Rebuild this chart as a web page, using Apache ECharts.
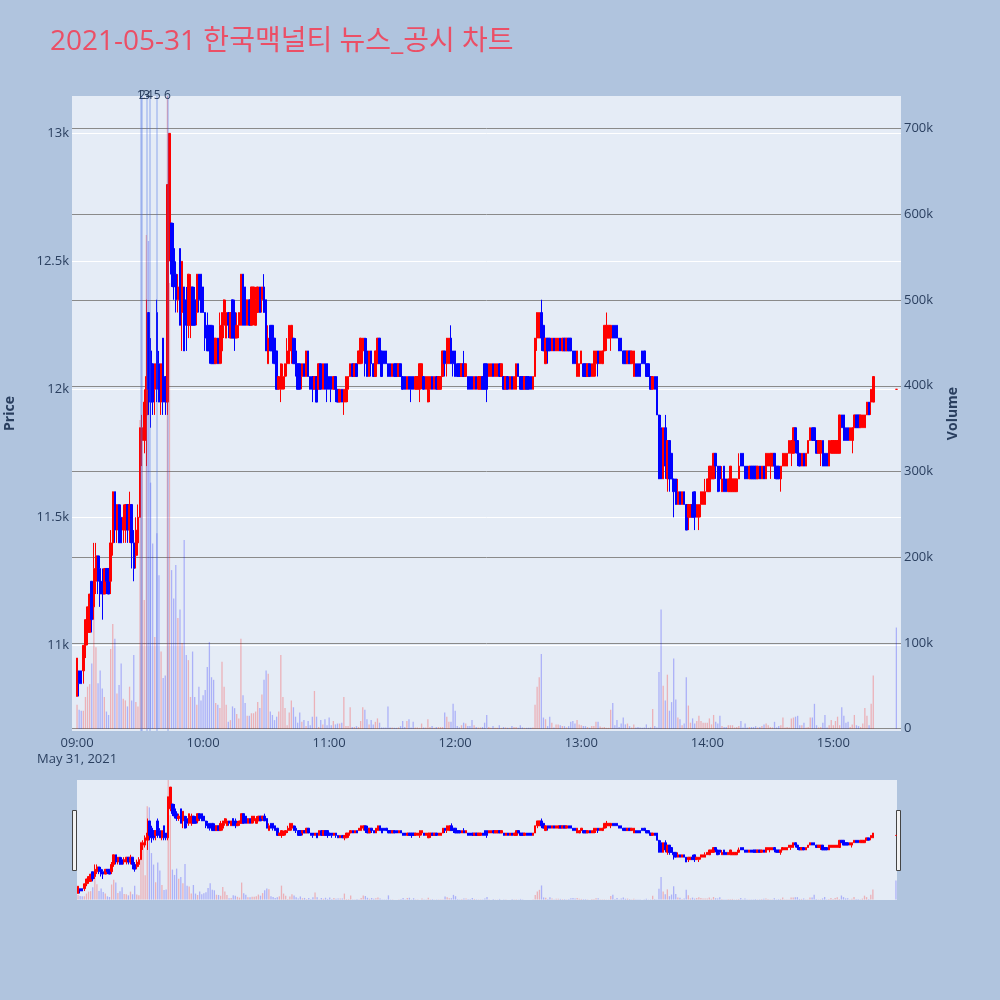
<!DOCTYPE html>
<html>
<head>
<meta charset="utf-8">
<title>2021-05-31 한국맥널티 뉴스_공시 차트</title>
<script src="https://cdn.jsdelivr.net/npm/echarts@6/dist/echarts.min.js"></script>
<style>
html, body { margin: 0; padding: 0; background: #b0c4de; }
#chart { width: 1000px; height: 1000px; }
</style>
</head>
<body>
<div id="chart"></div>
<script>
// 1분봉 09:00 ~ 15:19, 마지막 값은 15:30 종가 단일가
var openPrice = [
  10800,10900,10900,10900,11000,11050,11050,11250,11150,11250, // 09:00
  11350,11300,11250,11200,11300,11300,11250,11400,11600,11450,
  11550,11500,11450,11450,11550,11450,11550,11400,11350,11400,
  11500,11800,11800,11900,12300,12150,12100,12000,12300,12100, // 09:30
  11950,12200,12050,11950,12550,12650,12550,12450,12350,12550,
  12300,12400,12350,12250,12250,12400,12350,12300,12450,12450,
  12400,12300,12250,12250,12250,12200,12100,12200,12100,12150, // 10:00
  12250,12200,12300,12200,12350,12300,12200,12250,12250,12450,
  12400,12250,12350,12250,12300,12250,12300,12400,12350,12400,
  12350,12100,12250,12250,12200,12150,12000,12000,12000,12050, // 10:30
  12100,12100,12150,12200,12150,12100,12100,12050,12100,12050,
  12150,12050,12050,12000,12050,12000,12100,12000,12100,12100,
  12050,12050,12000,12050,12000,11950,12000,11950,11950,12000, // 11:00
  12050,12100,12050,12100,12100,12100,12150,12200,12150,12050,
  12150,12100,12050,12100,12200,12150,12150,12150,12100,12100,
  12050,12100,12100,12050,12100,12050,12050,12000,12050,12050, // 11:30
  12050,12000,12000,12000,12050,12050,12000,11950,12000,12050,
  12000,12050,12000,12000,12050,12150,12100,12100,12200,12150,
  12150,12100,12100,12050,12100,12050,12050,12050,12050,12000, // 12:00
  12050,12000,12000,12050,12100,12100,12050,12050,12100,12050,
  12050,12100,12050,12050,12000,12050,12000,12050,12000,12000,
  12100,12050,12050,12000,12050,12050,12050,12000,12050,12200, // 12:30
  12200,12300,12250,12100,12200,12200,12150,12200,12150,12150,
  12200,12150,12200,12150,12200,12200,12150,12150,12050,12050,
  12100,12100,12100,12050,12100,12050,12050,12100,12150,12100, // 13:00
  12100,12150,12200,12200,12200,12250,12250,12250,12200,12200,
  12150,12150,12100,12150,12100,12050,12100,12100,12100,12150,
  12150,12100,12100,12050,12000,12050,12050,11900,11850,11650, // 13:30
  11850,11650,11800,11750,11650,11650,11550,11600,11550,11600,
  11550,11500,11500,11550,11600,11500,11500,11550,11550,11550,
  11600,11600,11650,11650,11750,11700,11700,11600,11700,11650, // 14:00
  11600,11600,11600,11600,11600,11650,11750,11750,11700,11700,
  11650,11700,11700,11700,11650,11700,11650,11700,11650,11700,
  11700,11700,11750,11700,11700,11650,11700,11700,11700,11750, // 14:30
  11750,11750,11850,11800,11750,11700,11750,11700,11750,11800,
  11850,11850,11800,11750,11750,11800,11750,11750,11700,11750,
  11750,11750,11750,11750,11900,11900,11850,11850,11800,11800, // 15:00
  11850,11900,11900,11850,11850,11850,11900,11950,11950,11950,
  12000 // 15:30
];
var closePrice = [
  10950,10850,10850,11000,11100,11150,11200,11100,11300,11350,
  11250,11200,11200,11300,11250,11200,11400,11600,11450,11550,
  11400,11400,11500,11550,11450,11550,11400,11300,11450,11500,
  11850,11850,11950,12050,12000,11950,11950,12100,12000,11950,
  12100,11950,11950,12800,13000,12450,12400,12350,12400,12250,
  12500,12150,12250,12450,12400,12250,12250,12450,12350,12300,
  12300,12200,12150,12150,12100,12100,12200,12100,12250,12300,
  12350,12300,12250,12300,12200,12200,12250,12300,12450,12250,
  12250,12350,12250,12400,12400,12350,12400,12300,12400,12300,
  12150,12200,12150,12150,12100,12000,12050,12100,12050,12100,
  12150,12250,12250,12100,12100,12000,12000,12100,12050,12150,
  12050,12000,12000,12050,11950,12100,12000,12100,12000,12000,
  12000,12000,12050,12000,11950,12000,11950,12000,12050,12050,
  12100,12050,12100,12050,12150,12200,12200,12100,12050,12150,
  12100,12050,12150,12200,12100,12050,12100,12100,12050,12050,
  12100,12050,12050,12100,12050,12000,12000,12050,12000,12000,
  12000,12050,12050,12100,12100,12000,12050,12050,12050,12000,
  12050,12000,12050,12050,12150,12100,12200,12200,12100,12100,
  12050,12050,12050,12100,12050,12100,12000,12000,12000,12050,
  12000,12050,12050,12000,12000,12000,12100,12100,12050,12100,
  12100,12050,12100,12000,12050,12000,12050,12000,12050,12100,
  12050,12000,12000,12050,12000,12000,12000,12050,12200,12300,
  12300,12200,12150,12200,12150,12150,12200,12150,12200,12200,
  12150,12200,12150,12200,12150,12150,12100,12100,12150,12100,
  12150,12050,12050,12100,12050,12100,12150,12150,12100,12150,
  12150,12250,12250,12250,12250,12200,12200,12200,12150,12150,
  12100,12100,12150,12100,12150,12150,12050,12050,12050,12100,
  12100,12050,12050,12000,12050,12000,11900,11650,11650,11850,
  11700,11800,11650,11650,11600,11550,11600,11550,11600,11550,
  11450,11550,11550,11500,11500,11550,11550,11600,11600,11600,
  11650,11700,11700,11750,11700,11600,11650,11650,11600,11600,
  11650,11700,11650,11650,11650,11700,11700,11700,11650,11650,
  11700,11650,11650,11650,11700,11650,11700,11650,11750,11750,
  11750,11750,11700,11650,11650,11700,11750,11750,11750,11800,
  11800,11850,11800,11750,11700,11750,11700,11750,11800,11850,
  11800,11800,11750,11800,11800,11700,11700,11700,11800,11800,
  11800,11800,11800,11900,11850,11800,11800,11800,11850,11850,
  11900,11850,11850,11900,11900,11900,11950,11900,12000,12050,
  12000
];
var lowPrice = [
  10800,10800,10850,10850,10950,11000,11050,11050,11100,11200,
  11200,11150,11100,11200,11200,11200,11200,11350,11400,11400,
  11400,11400,11400,11400,11400,11400,11300,11250,11300,11350,
  11500,11700,11750,11700,11900,11850,11900,11900,11950,11950,
  11900,11900,11900,11900,12500,12400,12350,12300,12300,12250,
  12150,12150,12150,12200,12200,12250,12250,12250,12300,12300,
  12300,12150,12150,12100,12100,12100,12100,12100,12100,12100,
  12200,12200,12200,12200,12200,12150,12200,12200,12250,12250,
  12250,12250,12250,12250,12250,12250,12300,12300,12300,12300,
  12150,12100,12150,12100,12100,12000,12000,11950,12000,12000,
  12050,12100,12100,12100,12050,12000,12000,12000,12050,12050,
  12050,12000,11950,12000,11950,12000,12000,12000,12000,11950,
  12000,11950,12000,11950,11950,11950,11950,11900,11950,11950,
  12050,12050,12050,12050,12100,12100,12100,12050,12050,12050,
  12050,12050,12050,12100,12100,12050,12100,12100,12050,12050,
  12050,12050,12050,12050,12050,12000,12000,12000,12000,11950,
  12000,12000,12000,11950,12000,12000,12000,11950,11950,12000,
  12000,12000,12000,12000,12050,12050,12050,12100,12100,12050,
  12050,12050,12050,12050,12050,12050,12000,12000,12000,12000,
  12000,12000,12000,12000,12000,11950,12050,12050,12050,12050,
  12050,12050,12050,12000,12000,12000,12000,12000,12000,12000,
  12050,12000,12000,12000,12000,12000,12000,12000,12050,12150,
  12200,12150,12150,12100,12100,12150,12150,12150,12150,12150,
  12150,12150,12150,12150,12150,12150,12100,12100,12050,12050,
  12100,12050,12050,12050,12050,12050,12050,12050,12050,12100,
  12100,12150,12150,12200,12150,12200,12200,12200,12150,12150,
  12100,12100,12100,12100,12100,12050,12050,12050,12050,12100,
  12100,12050,12050,12000,12000,12000,11900,11650,11650,11650,
  11650,11600,11600,11650,11500,11550,11550,11550,11550,11550,
  11450,11450,11500,11500,11450,11500,11450,11500,11550,11550,
  11600,11600,11650,11650,11650,11600,11600,11600,11600,11600,
  11600,11600,11600,11600,11600,11650,11700,11700,11650,11650,
  11650,11650,11650,11650,11650,11650,11650,11650,11650,11700,
  11650,11700,11650,11650,11650,11600,11700,11700,11700,11750,
  11700,11750,11750,11700,11700,11700,11700,11700,11750,11800,
  11800,11800,11750,11750,11700,11700,11700,11700,11700,11750,
  11750,11750,11750,11750,11850,11800,11800,11800,11800,11750,
  11850,11850,11850,11850,11850,11850,11900,11900,11900,11950,
  12000
];
var highPrice = [
  10950,10900,10900,11000,11100,11150,11200,11250,11400,11400,
  11350,11350,11300,11300,11300,11300,11450,11600,11600,11550,
  11550,11550,11550,11550,11550,11600,11550,11450,11500,11550,
  11850,11900,12000,12350,12300,12200,12100,12100,12350,12150,
  12100,12200,12050,12800,13000,12650,12650,12500,12450,12550,
  12500,12400,12400,12450,12450,12400,12400,12450,12450,12450,
  12400,12300,12300,12250,12250,12250,12200,12200,12300,12300,
  12350,12350,12300,12300,12350,12350,12300,12300,12450,12450,
  12400,12350,12350,12400,12400,12400,12400,12400,12400,12450,
  12350,12250,12250,12250,12200,12150,12050,12100,12100,12100,
  12200,12250,12250,12200,12200,12100,12100,12100,12100,12150,
  12150,12050,12050,12050,12050,12100,12100,12100,12100,12100,
  12050,12050,12050,12050,12000,12000,12000,12000,12050,12050,
  12100,12100,12100,12100,12150,12200,12200,12200,12200,12150,
  12150,12100,12150,12200,12200,12150,12150,12150,12100,12100,
  12100,12100,12100,12100,12100,12050,12050,12050,12050,12050,
  12050,12050,12050,12100,12100,12050,12050,12050,12050,12050,
  12050,12050,12050,12050,12150,12150,12200,12200,12250,12150,
  12150,12100,12100,12100,12150,12100,12050,12050,12050,12050,
  12050,12050,12050,12050,12100,12100,12100,12100,12100,12100,
  12100,12100,12100,12050,12050,12050,12050,12050,12050,12100,
  12100,12050,12050,12050,12050,12050,12050,12050,12200,12300,
  12300,12350,12250,12200,12200,12200,12200,12200,12200,12200,
  12200,12200,12200,12200,12200,12200,12150,12150,12150,12100,
  12150,12100,12100,12100,12100,12100,12150,12150,12150,12150,
  12150,12250,12300,12250,12250,12250,12250,12250,12200,12200,
  12150,12150,12150,12150,12150,12150,12100,12100,12100,12150,
  12150,12100,12100,12050,12050,12050,12050,11900,11900,11850,
  11900,11800,11800,11750,11650,11650,11650,11600,11600,11600,
  11550,11550,11550,11600,11600,11550,11550,11600,11600,11650,
  11650,11700,11700,11750,11750,11700,11700,11700,11700,11650,
  11650,11700,11650,11650,11650,11750,11750,11750,11700,11700,
  11700,11700,11700,11700,11700,11700,11700,11700,11750,11750,
  11750,11750,11750,11700,11700,11700,11750,11750,11750,11800,
  11800,11850,11850,11800,11750,11750,11750,11750,11800,11850,
  11850,11850,11800,11800,11800,11800,11750,11750,11800,11800,
  11800,11800,11800,11900,11900,11900,11850,11850,11850,11850,
  11900,11900,11900,11900,11900,11900,11950,11950,12000,12050,
  12000
];
var volume = [
  28000,22000,21000,21000,37000,49000,52000,76000,185000,95000,
  53000,68000,47000,37000,20000,16000,93000,122000,105000,41000,
  51000,76000,35000,33000,26000,49000,33000,86000,31000,26000,
  360000,336000,150000,576000,569000,287000,216000,107000,228000,179000,
  90000,59000,62000,780000,520000,185000,152000,191000,129000,139000,
  100000,220000,86000,80000,37000,90000,37000,28000,49000,33000,
  39000,45000,72000,101000,60000,57000,30000,28000,24000,78000,
  49000,28000,8000,10000,26000,24000,17000,12000,105000,39000,
  30000,15000,15000,18000,18000,20000,31000,24000,40000,57000,
  68000,64000,20000,16000,10000,14000,20000,86000,37000,24000,
  4000,19000,33000,25000,14000,7000,19000,8000,10000,3000,
  9000,4000,14000,44000,14000,2000,10000,5000,11000,4000,
  13000,4000,9000,5000,6000,6000,7000,37000,3000,3000,
  25000,2000,2000,3000,2000,9000,25000,22000,11000,5000,
  10000,5000,8000,12000,7000,1500,1500,1500,26000,1500,
  1500,1000,1000,1500,3000,9000,2000,9000,11000,1500,
  8000,1500,1500,1000,6000,1500,1500,11000,2000,3000,
  1000,2000,2000,2000,2000,19000,14000,8000,8000,29000,
  21000,3000,1500,4000,7000,6000,3000,3000,10000,4000,
  2000,1500,1500,2000,7000,16000,2000,1000,3000,1000,
  1000,4000,1000,2000,1500,1000,1000,3000,2000,2000,
  1000,4000,1500,1000,1000,1000,1000,1500,28000,49000,
  60000,87000,13000,11000,3000,14000,7000,1500,5000,5000,
  4000,3000,3000,1500,3000,8000,9000,6000,10000,5000,
  4000,3000,3000,2000,1000,3000,3000,8000,8000,2500,
  1500,2000,1000,1000,22000,30000,4000,10000,2000,6000,
  13000,5000,6000,3000,1500,5000,1500,2000,1500,1000,
  1500,5000,1000,1500,23000,3000,1500,66000,139000,50000,
  33000,63000,21000,31000,82000,34000,13000,11000,4000,6000,
  60000,27000,7000,12000,6000,9000,15000,9000,7000,7000,
  7000,12000,5000,16000,8000,6000,15000,3000,2000,2000,
  4000,4000,4000,1500,2000,3000,9000,1500,6000,1500,
  2000,2000,2000,3000,1500,2000,3000,5000,6000,4000,
  2000,1500,8000,1500,3000,4000,13000,1500,2000,1500,
  12000,13000,14000,15000,4000,4000,7000,1500,2000,13000,
  13000,29000,4000,1500,2000,7000,16000,1500,4000,10000,
  4000,9000,14000,4000,25000,15000,7000,8000,2000,5000,
  16000,4000,3000,2000,6000,24000,15000,4000,29000,62000,
  118000
];

// 분 단위 위치 (09:00 = 0), 15:20~15:29 는 거래 없음
var minutes = [];
for (var i = 0; i < 380; i++) minutes.push(i);
minutes.push(390);

// 뉴스/공시 시각 (분)
var newsMinutes = [30.1, 31.0, 33.2, 34.4, 38.1, 43.0];
var newsLabels = ['1', '2', '3', '4', '5', '6'];

var timeTicks = [0, 60, 120, 180, 240, 300, 360];
var tradeDate = 'May 31, 2021';

var upColor = '#ff0000', downColor = '#0000ff';
var volUp = 'rgba(255,0,0,0.25)', volDown = 'rgba(0,0,255,0.25)';
var fontMain = '"Open Sans", "Noto Sans CJK KR", sans-serif';

var candleData = [], volumeData = [];
for (var k = 0; k < minutes.length; k++) {
    var o = openPrice[k], c = closePrice[k];
    var up = c > o || (c === o && (k === 0 || c >= closePrice[k - 1]));
    var item = { value: [minutes[k], o, c, lowPrice[k], highPrice[k]] };
    if (c === o) {
        item.itemStyle = { color: upColor, color0: upColor, borderColor: upColor, borderColor0: upColor };
    }
    candleData.push(item);
    volumeData.push({ value: [minutes[k], volume[k]], itemStyle: { color: up ? volUp : volDown } });
}

function timeLabel(v) {
    var h = 9 + Math.floor(v / 60), mm = v % 60;
    var s = (h < 10 ? '0' : '') + h + ':' + (mm < 10 ? '0' : '') + mm;
    return v === 0 ? s + '\n' + tradeDate : s;
}

var priceMin = 10665, priceMax = 13146;
var volMin = -2700, volMax = 738000;

var myChart = echarts.init(document.getElementById('chart'));
var option = {
    backgroundColor: '#b0c4de',
    animation: false,
    textStyle: { fontFamily: fontMain },
    title: {
        text: '2021-05-31 한국맥널티 뉴스_공시 차트',
        left: 45,
        top: 23,
        textStyle: { color: '#eb4f66', fontSize: 28, fontWeight: 'normal', fontFamily: fontMain }
    },
    grid: [
        { left: 72, top: 96, width: 829, height: 635, show: true, backgroundColor: '#e5ecf6', borderWidth: 0, outerBoundsMode: 'none' },
        { left: 77, top: 780, width: 820, height: 120, show: true, backgroundColor: '#e5ecf6', borderWidth: 0, outerBoundsMode: 'none' }
    ],
    xAxis: [
        {
            type: 'value', gridIndex: 0, min: -2.4, max: 392.2,
            axisLine: { show: false }, axisTick: { show: false }, splitLine: { show: false },
            axisLabel: {
                customValues: timeTicks, formatter: timeLabel,
                color: '#2a3f5f', fontSize: 13, margin: 4, lineHeight: 16
            }
        },
        { type: 'value', gridIndex: 1, min: -0.5, max: 390.5, show: false }
    ],
    yAxis: [
        {
            type: 'value', gridIndex: 0, position: 'left', min: priceMin, max: priceMax, splitNumber: 5,
            name: 'Price', nameLocation: 'middle', nameGap: 55, nameRotate: 90,
            nameTextStyle: { color: '#2a3f5f', fontSize: 14, fontWeight: 'bold' },
            axisLine: { show: false }, axisTick: { show: false },
            axisLabel: {
                color: '#2a3f5f', fontSize: 13, margin: 3,
                showMinLabel: false, showMaxLabel: false,
                formatter: function (v) { return v % 500 === 0 ? (v / 1000) + 'k' : ''; }
            },
            splitLine: { lineStyle: { color: '#ffffff', width: 1 }, showMinLine: false, showMaxLine: false }
        },
        {
            type: 'value', gridIndex: 0, position: 'right', min: volMin, max: volMax, splitNumber: 7,
            name: 'Volume', nameLocation: 'middle', nameGap: 45, nameRotate: 90,
            nameTextStyle: { color: '#2a3f5f', fontSize: 14, fontWeight: 'bold' },
            axisLine: { show: false }, axisTick: { show: false },
            axisLabel: {
                color: '#2a3f5f', fontSize: 13, margin: 3,
                showMinLabel: false, showMaxLabel: false,
                formatter: function (v) { return v === 0 ? '0' : (v % 100000 === 0 ? (v / 1000) + 'k' : ''); }
            },
            splitLine: { lineStyle: { color: '#8a8a8a', width: 1 }, showMinLine: false, showMaxLine: false }
        },
        { type: 'value', gridIndex: 1, min: priceMin, max: priceMax, show: false },
        { type: 'value', gridIndex: 1, min: volMin, max: volMax, show: false }
    ],
    graphic: [
        { type: 'rect', left: 72, top: 810, shape: { width: 4, height: 60 }, style: { fill: '#f2f2f2', stroke: '#444', lineWidth: 1 } },
        { type: 'rect', left: 896, top: 810, shape: { width: 4, height: 60 }, style: { fill: '#f2f2f2', stroke: '#444', lineWidth: 1 } }
    ],
    series: [
        {
            name: 'Volume', type: 'bar', xAxisIndex: 0, yAxisIndex: 1,
            data: volumeData, barWidth: 1.3, z: 1
        },
        {
            name: 'Price', type: 'candlestick', xAxisIndex: 0, yAxisIndex: 0,
            data: candleData, encode: { x: 0, y: [1, 2, 3, 4] },
            barWidth: 2, z: 3,
            itemStyle: { color: upColor, color0: downColor, borderColor: upColor, borderColor0: downColor, borderWidth: 1 },
            markLine: {
                silent: true, symbol: ['none', 'none'], z: 5,
                lineStyle: { color: 'rgba(65,105,225,0.35)', width: 1.5, type: 'solid' },
                label: { show: true, position: 'end', distance: -6, formatter: '{b}', color: '#2a3f5f', fontSize: 12 },
                data: newsMinutes.map(function (m, i) { return { name: newsLabels[i], xAxis: m }; })
            }
        },
        {
            name: 'VolumeSlider', type: 'bar', xAxisIndex: 1, yAxisIndex: 3,
            data: volumeData, barWidth: 1.3, z: 1
        },
        {
            name: 'PriceSlider', type: 'candlestick', xAxisIndex: 1, yAxisIndex: 2,
            data: candleData, encode: { x: 0, y: [1, 2, 3, 4] },
            barWidth: 2, z: 3,
            itemStyle: { color: upColor, color0: downColor, borderColor: upColor, borderColor0: downColor, borderWidth: 1 }
        }
    ]
};
myChart.setOption(option);
</script>
</body>
</html>
